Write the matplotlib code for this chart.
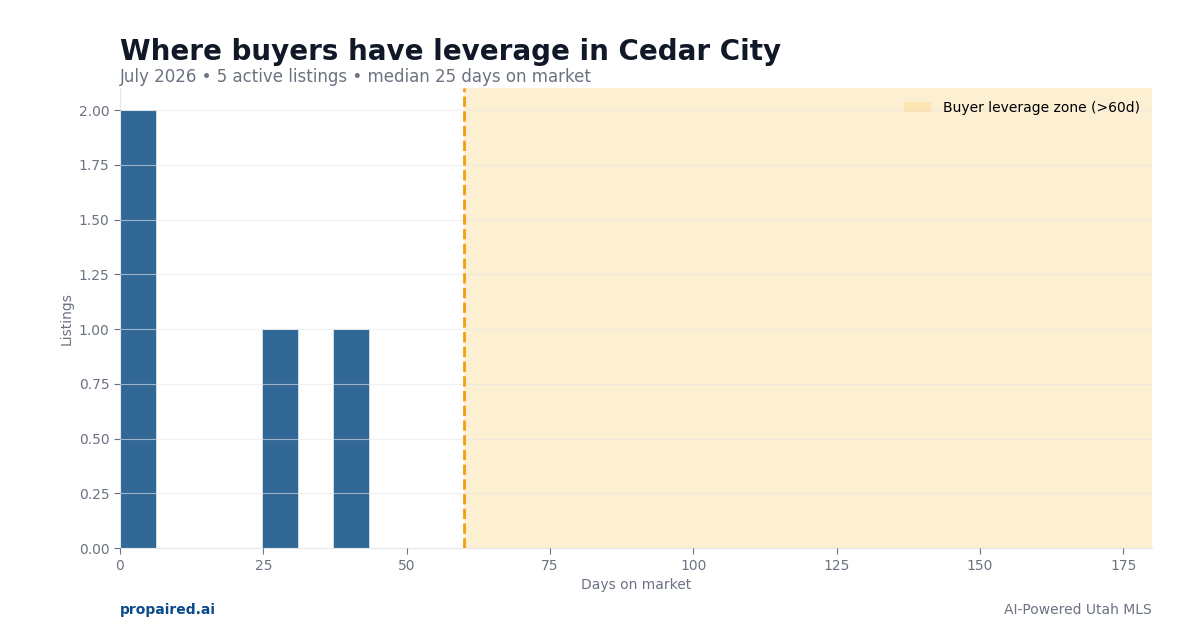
import numpy as np
import matplotlib.pyplot as plt

# histogram of days on market
bin_edges = [0, 6.2, 12.4, 18.6, 24.8, 31.0, 37.2, 43.4]
counts = [2, 0, 0, 0, 1, 0, 1]
threshold = 60
x_max = 180

title = 'Where buyers have leverage in Cedar City'
subtitle = 'July 2026 \u2022 5 active listings \u2022 median 25 days on market'

fig = plt.figure(figsize=(12, 6.3), dpi=100)
ax = fig.add_axes([0.1, 0.13, 0.86, 0.73])

lefts = np.array(bin_edges[:-1])
widths = np.diff(bin_edges)
ax.bar(lefts, counts, width=widths, align='edge', color='#326896',
       edgecolor='#dbe3ec', linewidth=0.6, zorder=2)

ax.axvspan(threshold, x_max, color='#fbd27c', alpha=0.35, lw=0,
           label='Buyer leverage zone (>60d)', zorder=1)
ax.axvline(threshold, color='#f59e0b', linestyle='--', linewidth=2, zorder=3)

ax.set_xlim(0, x_max)
ax.set_ylim(0, 2.1)
ax.set_yticks(np.arange(0, 2.01, 0.25))
ax.set_yticklabels([f'{v:.2f}' for v in np.arange(0, 2.01, 0.25)])
ax.set_xticks([0, 25, 50, 75, 100, 125, 150, 175])

ax.grid(axis='y', color='#e5e7eb', alpha=0.6, linewidth=0.8, zorder=2.5)
ax.set_axisbelow(False)
for s in ['top', 'right']:
    ax.spines[s].set_visible(False)
for s in ['left', 'bottom']:
    ax.spines[s].set_color('#e5e7eb')
ax.tick_params(colors='#6b7280', labelsize=10, length=4)

ax.set_xlabel('Days on market', color='#6b7280', fontsize=10)
ax.set_ylabel('Listings', color='#6b7280', fontsize=10)

ax.legend(loc='upper right', frameon=False, fontsize=10)

fig.text(0.1, 0.917, title, fontsize=20, fontweight='bold', color='#111827',
         va='center', ha='left')
fig.text(0.1, 0.877, subtitle, fontsize=12, color='#6b7280',
         va='center', ha='left')

fig.text(0.1, 0.032, 'propaired.ai', fontsize=10, fontweight='bold',
         color='#0b4a8b', va='center', ha='left')
fig.text(0.96, 0.032, 'AI-Powered Utah MLS', fontsize=10, color='#6b7280',
         va='center', ha='right')

plt.savefig('out.png', dpi=100)
